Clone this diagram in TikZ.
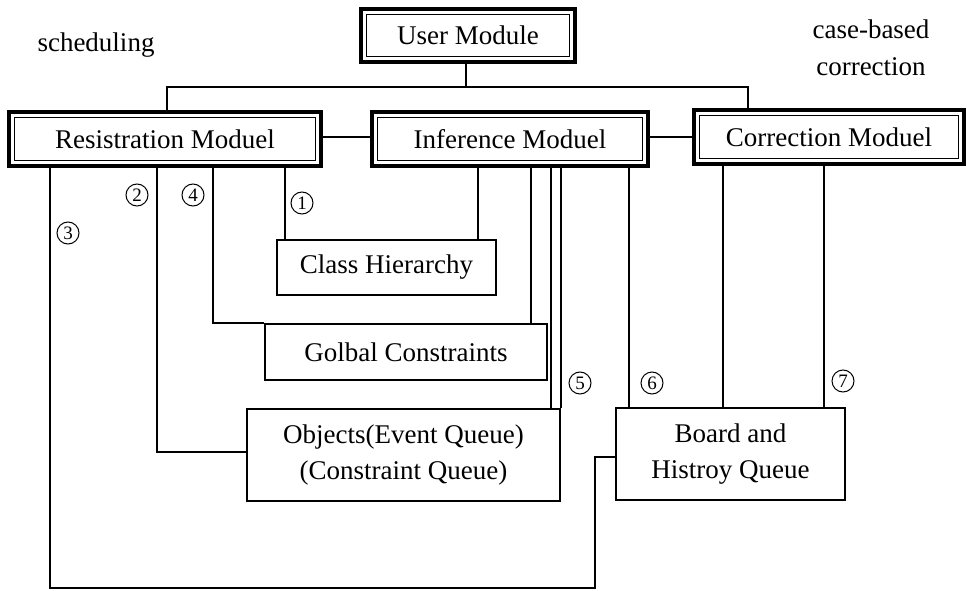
\documentclass[tikz,border=0pt]{standalone}
\usepackage{fontspec}
\setmainfont{Liberation Serif}
\usetikzlibrary{calc}
\begin{document}
\begin{tikzpicture}[x=1pt,y=-1pt,
  every node/.style={font=\fontsize{27}{36}\selectfont},
  conn/.style={line width=1.4pt},
  plainbox/.style={draw, line width=1.8pt, inner sep=0pt, align=center},
  modbox/.style={draw, line width=3.2pt, inner sep=0pt,
    path picture={\draw[line width=1.3pt]
      ([shift={(5.5pt,-5.5pt)}]path picture bounding box.north west) rectangle
      ([shift={(-5.5pt,5.5pt)}]path picture bounding box.south east);}},
  num/.style={circle, draw, line width=1pt, inner sep=0pt, minimum size=22pt,
    font=\fontsize{19}{19}\selectfont}]
\useasboundingbox (0,0) rectangle (967,591);

% modules
\node[modbox, minimum width=214pt, minimum height=53pt] (user) at (468,35.5) {User Module};
\node[modbox, minimum width=312pt, minimum height=54pt] (res) at (165,139) {Resistration Moduel};
\node[modbox, minimum width=276pt, minimum height=54pt] (inf) at (510,139) {Inference Moduel};
\node[modbox, minimum width=270pt, minimum height=54pt] (corr) at (829,137) {Correction Moduel};

% data stores
\node[plainbox, minimum width=219pt, minimum height=55pt] (class) at (386.5,267.5) {Class Hierarchy};
\node[plainbox, minimum width=282pt, minimum height=56pt] (golbal) at (406,352) {Golbal Constraints};
\node[plainbox, minimum width=313pt, minimum height=92pt] (objects) at (403.5,455) {Objects(Event Queue)\\(Constraint Queue)};
\node[plainbox, minimum width=229pt, minimum height=92pt] (board) at (730.5,454) {Board and\\Histroy Queue};

% side captions
\node (sched) at (96,45) {scheduling};
\node[align=center, font=\fontsize{27}{37}\selectfont] (cbc) at (871,48) {case-based\\correction};

% user module tree
\coordinate (tj) at (466,87);
\draw[conn] (466,0 |- user.south) -- (tj);
\draw[conn] (167,0 |- res.north) |- (tj) -| (748,0 |- corr.north);

% module chain
\draw[conn] (res.east |- 0,137) -- (inf.west |- 0,137);
\draw[conn] (inf.east |- 0,137) -- (corr.west |- 0,137);

% registration module links
\draw[conn] (50,0 |- res.south) |- (595,588) |- (board.west |- 0,457);
\draw[conn] (157,0 |- res.south) |- (objects.west |- 0,452);
\draw[conn] (213,0 |- res.south) |- (golbal.north west);
\draw[conn] (285,0 |- res.south) -- (285,0 |- class.north);

% inference module links
\draw[conn] (478,0 |- inf.south) -- (478,0 |- class.north);
\draw[conn] (531,0 |- inf.south) -- (531,0 |- golbal.north);
\draw[conn] (551,0 |- inf.south) -- (551,0 |- objects.north);
\draw[conn] (objects.north east |- inf.south) -- (objects.north east);
\draw[conn] (629,0 |- inf.south) -- (629,0 |- board.north);

% correction module links
\draw[conn] (723,0 |- corr.south) -- (723,0 |- board.north);
\draw[conn] (824,0 |- corr.south) -- (824,0 |- board.north);

% link numbers
\node[num] (n1) at (302,203) {1};
\node[num] (n2) at (137,195) {2};
\node[num] (n3) at (68,233) {3};
\node[num] (n4) at (193,195) {4};
\node[num] (n5) at (580,383) {5};
\node[num] (n6) at (652,383) {6};
\node[num] (n7) at (843,381) {7};
\end{tikzpicture}
\end{document}
